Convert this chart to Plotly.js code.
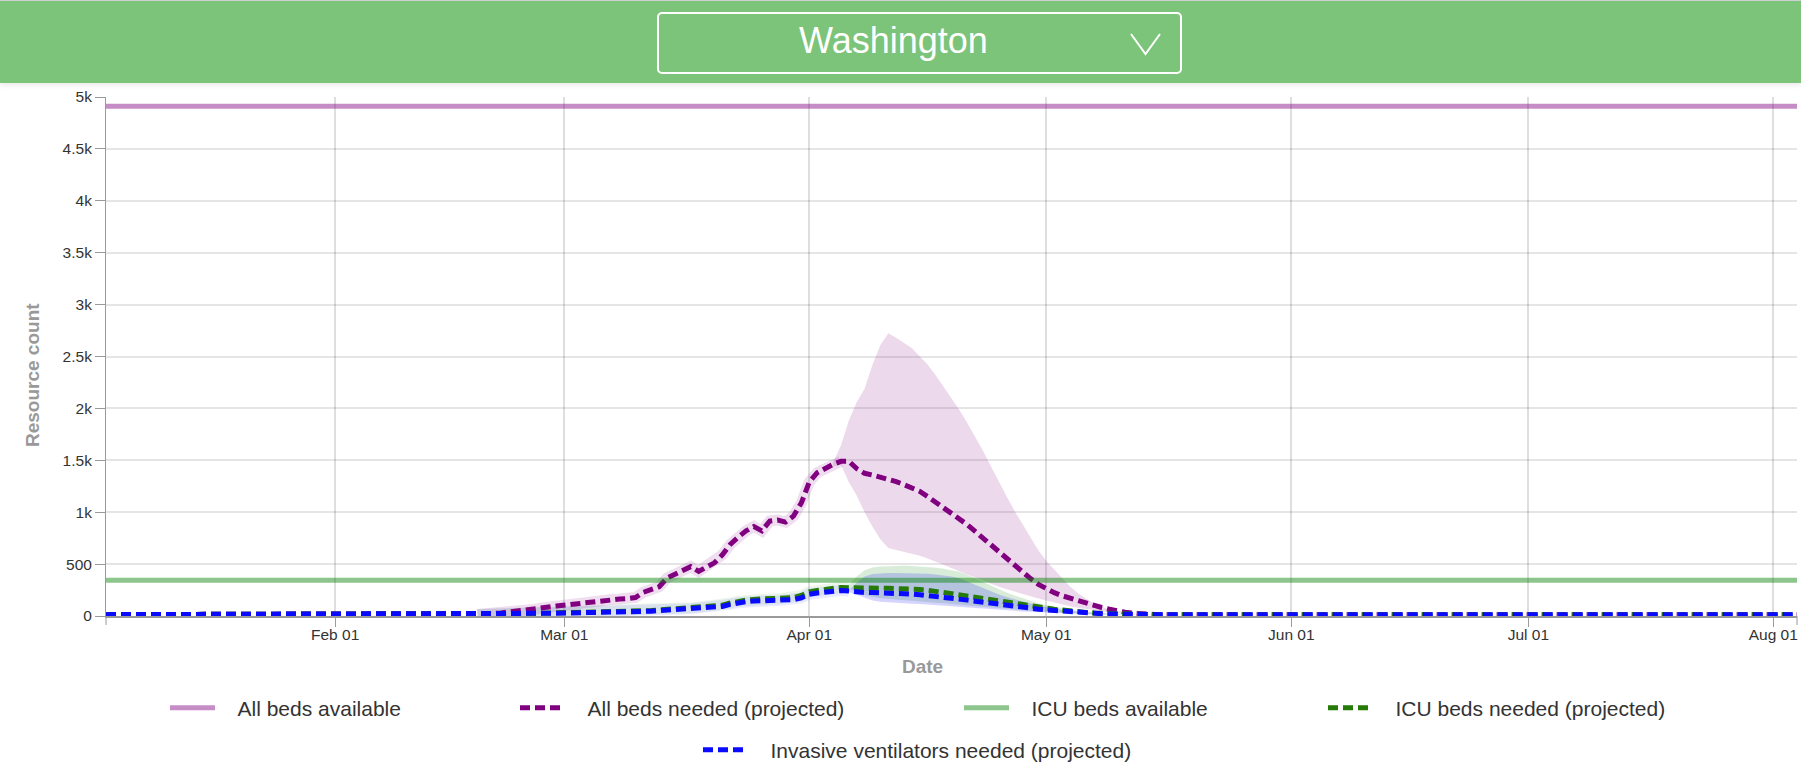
<!DOCTYPE html>
<html>
<head>
<meta charset="utf-8">
<script src="https://cdn.plot.ly/plotly-3.0.1.min.js"></script>
<style>
  html, body { margin:0; padding:0; background:#fff; }
  #wrap { position:relative; width:1801px; height:780px; overflow:hidden; font-family:"Liberation Sans", Arial, sans-serif; }
  #chart { position:absolute; left:0; top:0; width:1801px; height:780px; }
  #header { position:absolute; left:0; top:0; width:1801px; height:83px; background:rgb(123,196,122);
            border-top:1px solid #cfcfcf; box-sizing:border-box; box-shadow:0 3px 4px rgba(0,0,0,0.07); }
  #select { position:absolute; left:657px; top:11px; width:525px; height:62px; border:2px solid #fff;
            border-radius:5px; box-sizing:border-box; }
  #select span { position:absolute; left:0; top:9px; width:469px; text-align:center; color:#fff;
            font-size:36px; line-height:36px; font-family:"Liberation Sans", Arial, sans-serif; }
  #select svg { position:absolute; left:470px; top:18px; }
</style>
</head>
<body>
<div id="wrap">
  <div id="chart"></div>
  <div id="header">
    <div id="select">
      <span>Washington</span>
      <svg width="34" height="26" viewBox="0 0 34 26"><polyline points="2,2 16.5,22 31,2" fill="none" stroke="#fff" stroke-width="2"/></svg>
    </div>
  </div>
</div>
<script>
// ---- data ----
const availDates = ['2020-01-03', '2020-08-04'];
const allBedsAvailable = [4910, 4910];
const icuBedsAvailable = [344, 344];

const dates = ['2020-01-03',
 '2020-02-19','2020-02-20','2020-02-21','2020-02-22','2020-02-23','2020-02-24','2020-02-25','2020-02-26','2020-02-27','2020-02-28','2020-02-29',
 '2020-03-01','2020-03-02','2020-03-03','2020-03-04','2020-03-05','2020-03-06','2020-03-07','2020-03-08','2020-03-09','2020-03-10',
 '2020-03-11','2020-03-12','2020-03-13','2020-03-14','2020-03-15','2020-03-16','2020-03-17','2020-03-18','2020-03-19','2020-03-20',
 '2020-03-21','2020-03-22','2020-03-23','2020-03-24','2020-03-25','2020-03-26','2020-03-27','2020-03-28','2020-03-29','2020-03-30','2020-03-31',
 '2020-04-01','2020-04-02','2020-04-03','2020-04-04','2020-04-05','2020-04-06','2020-04-07','2020-04-08','2020-04-09','2020-04-10',
 '2020-04-11','2020-04-12','2020-04-13','2020-04-14','2020-04-15','2020-04-16','2020-04-17','2020-04-18','2020-04-19','2020-04-20',
 '2020-04-21','2020-04-22','2020-04-23','2020-04-24','2020-04-25','2020-04-26','2020-04-27','2020-04-28','2020-04-29','2020-04-30',
 '2020-05-01','2020-05-02','2020-05-03','2020-05-04','2020-05-05','2020-05-06','2020-05-07','2020-05-08','2020-05-09','2020-05-10',
 '2020-05-11','2020-05-12','2020-05-13','2020-05-14','2020-05-15','2020-05-16',
 '2020-08-04'];

const allBedsNeeded = [13,
 15,18,24,30,38,44,50,62,74,86,96,
 104,114,126,138,148,155,160,163,168,178,
 228,258,282,365,400,440,475,430,478,512,
 590,690,760,820,862,820,915,925,905,962,1090,
 1290,1380,1425,1460,1490,1492,1420,1375,1358,1340,
 1322,1295,1265,1235,1200,1150,1098,1050,992,940,
 880,815,750,680,610,545,475,415,360,305,
 260,225,195,170,145,122,102,82,65,48,
 36,27,20,16,13,13,
 13];

const icuBedsNeeded = [13,
 14,16,17,19,20,22,24,25,27,28,30,
 31,32,34,35,36,37,38,39,40,41,
 47,52,58,65,70,75,80,85,90,97,
 104,125,143,153,160,162,164,165,168,178,198,
 232,246,256,266,275,272,268,267,267,267,
 267,266,264,261,255,248,238,228,215,202,
 190,180,169,158,147,135,121,108,97,86,
 76,66,56,48,41,35,30,26,22,19,
 17,15,14,13,13,13,
 13];

const ventilatorsNeeded = [13,
 14,15,16,17,19,20,22,23,24,26,27,
 28,28,30,31,32,33,34,35,35,36,
 42,46,52,58,63,67,71,76,80,86,
 92,112,128,138,144,146,148,148,150,158,175,
 210,222,232,240,246,240,230,227,226,225,
 224,221,217,211,205,198,190,181,172,163,
 153,143,132,121,111,101,92,83,75,66,
 59,52,45,39,34,29,25,22,19,17,
 15,14,13,13,13,13,
 13];

const bandDates = [
 '2020-04-04','2020-04-05','2020-04-06','2020-04-07','2020-04-08','2020-04-09','2020-04-10',
 '2020-04-11','2020-04-12','2020-04-13','2020-04-14','2020-04-15','2020-04-16','2020-04-17','2020-04-18','2020-04-19','2020-04-20',
 '2020-04-21','2020-04-22','2020-04-23','2020-04-24','2020-04-25','2020-04-26','2020-04-27','2020-04-28','2020-04-29','2020-04-30',
 '2020-05-01','2020-05-02','2020-05-03','2020-05-04','2020-05-05','2020-05-06','2020-05-07','2020-05-08','2020-05-09','2020-05-10',
 '2020-05-11','2020-05-12','2020-05-13','2020-05-14','2020-05-15','2020-05-16'];

const allBedsUpper = [1480,1640,1880,2060,2190,2420,2610,
 2725,2680,2630,2580,2500,2420,2320,2210,2100,1985,
 1860,1730,1590,1440,1290,1150,1010,880,750,630,
 530,445,360,285,220,168,125,90,64,45,
 32,24,19,16,14,13];
const allBedsLower = [1440,1460,1290,1160,1000,860,740,
 655,635,618,598,580,553,524,495,463,432,
 400,370,340,310,282,258,234,210,188,168,
 150,130,112,95,80,67,55,45,37,30,
 25,20,17,15,13,12];

const icuUpper = [266,276,300,380,440,468,478,
 482,483,483,481,478,472,465,455,442,427,
 397,363,325,288,255,225,197,170,145,123,
 103,87,73,60,50,41,34,28,24,20,
 18,16,15,14,13,13];
const icuLower = [266,275,262,240,205,182,170,
 162,156,151,146,142,135,128,122,115,108,
 100,93,86,79,73,67,61,55,49,44,
 39,35,31,27,24,21,19,17,16,15,
 14,13,13,13,13,13];

const ventUpper = [240,246,250,320,380,405,413,
 415,415,414,412,410,406,400,392,380,363,
 332,299,266,236,207,182,160,139,120,102,
 86,72,60,50,41,34,28,24,20,18,
 16,15,14,13,13,13];
const ventLower = [240,246,232,205,172,150,138,
 132,127,123,119,116,110,104,97,91,85,
 79,73,68,63,58,53,48,44,40,36,
 30,27,24,21,19,17,15,14,13,13,
 12,12,12,12,12,12];

const legendLabels = ['All beds available', 'All beds needed (projected)', 'ICU beds available',
                      'ICU beds needed (projected)', 'Invasive ventilators needed (projected)'];

// ---- styling ----
const FONT = '"Liberation Sans", Arial, Helvetica, sans-serif';
const PURPLE = 'rgb(128,0,128)';
const GREEN = 'rgb(38,122,8)';
const BLUE = 'rgb(10,10,255)';
const DASH = '10px,5px';
const PAD = '\u00a0\u00a0\u00a0';   // gap between legend swatch and label

function band(lower, upper, color) {
  return [
    {x: bandDates, y: lower, type: 'scatter', mode: 'lines', line: {width: 0}, hoverinfo: 'skip', showlegend: false},
    {x: bandDates, y: upper, type: 'scatter', mode: 'lines', line: {width: 0}, fill: 'tonexty', fillcolor: color, hoverinfo: 'skip', showlegend: false}
  ];
}
function halo(end, values, color) {
  return {x: dates.slice(1, end), y: values.slice(1, end), type: 'scatter', mode: 'lines',
          line: {width: 11, color: color}, hoverinfo: 'skip', showlegend: false};
}

const traces = [].concat(
  band(allBedsLower, allBedsUpper, 'rgba(128,0,128,0.15)'),
  band(icuLower, icuUpper, 'rgba(0,128,0,0.15)'),
  band(ventLower, ventUpper, 'rgba(0,0,255,0.17)'),
  [
    halo(48, allBedsNeeded, 'rgba(128,0,128,0.13)'),
    halo(49, icuBedsNeeded, 'rgba(0,128,0,0.08)'),
    halo(49, ventilatorsNeeded, 'rgba(0,0,255,0.08)'),
    {x: dates, y: allBedsNeeded, name: PAD + legendLabels[1], type: 'scatter', mode: 'lines',
     line: {color: PURPLE, width: 5, dash: DASH}, legend: 'legend2'},
    {x: dates, y: icuBedsNeeded, name: PAD + legendLabels[3], type: 'scatter', mode: 'lines',
     line: {color: GREEN, width: 5, dash: DASH}, legend: 'legend4'},
    {x: dates, y: ventilatorsNeeded, name: PAD + legendLabels[4], type: 'scatter', mode: 'lines',
     line: {color: BLUE, width: 5, dash: DASH}, legend: 'legend5'},
    {x: availDates, y: allBedsAvailable, name: PAD + legendLabels[0], type: 'scatter', mode: 'lines',
     line: {color: 'rgba(128,0,128,0.45)', width: 5}, legend: 'legend'},
    {x: availDates, y: icuBedsAvailable, name: PAD + legendLabels[2], type: 'scatter', mode: 'lines',
     line: {color: 'rgba(0,128,0,0.45)', width: 5}, legend: 'legend3'}
  ]
);

const PL = 106, PR = 1797, PT = 97, PB = 616;
const PW = PR - PL, PH = PB - PT;
const px2x = p => (p - PL) / PW;
const px2y = p => (PB - p) / PH;

function leg(xpx, ypx) {
  return {orientation: 'h', x: px2x(xpx), y: px2y(ypx), xanchor: 'left', yanchor: 'middle',
          bgcolor: 'rgba(0,0,0,0)', borderwidth: 0, itemwidth: 45,
          font: {family: FONT, size: 21, color: '#333'}};
}

const layout = {
  width: 1801, height: 780,
  margin: {l: PL, r: 1801 - PR, t: PT, b: 780 - PB},
  paper_bgcolor: '#fff', plot_bgcolor: '#fff',
  font: {family: FONT, color: '#333'},
  showlegend: true,
  xaxis: {
    type: 'date', range: ['2020-01-03', '2020-08-04'],
    tick0: '2020-01-01', dtick: 'M1', tickformat: '%b %d',
    showgrid: true, gridcolor: 'rgba(0,0,0,0.13)', gridwidth: 2,
    showline: true, linecolor: '#9a9a9a', linewidth: 2,
    ticks: 'outside', ticklen: 9, tickcolor: '#9a9a9a', tickwidth: 1,
    ticklabelstandoff: -6,
    tickfont: {family: FONT, size: 15.5, color: '#333'},
    zeroline: false, fixedrange: true
  },
  yaxis: {
    range: [0, 5000], dtick: 500, tick0: 0, tickformat: '~s',
    showgrid: true, gridcolor: 'rgba(0,0,0,0.1)', gridwidth: 2,
    showline: true, linecolor: '#9a9a9a', linewidth: 1,
    ticks: 'outside', ticklen: 10, tickcolor: '#9a9a9a', tickwidth: 1,
    tickfont: {family: FONT, size: 15.5, color: '#333'},
    zeroline: false, fixedrange: true
  },
  legend: leg(165, 708),
  legend2: leg(515, 708),
  legend3: leg(959, 708),
  legend4: leg(1323, 708),
  legend5: leg(698, 750),
  shapes: [
    {type: 'line', xref: 'paper', yref: 'paper', x0: 0, x1: 0, y0: 0, y1: -9 / PH,
     line: {color: '#9a9a9a', width: 1}},
    {type: 'line', xref: 'paper', yref: 'paper', x0: 1, x1: 1, y0: 0, y1: -9 / PH,
     line: {color: '#9a9a9a', width: 1}}
  ],
  annotations: [
    {text: 'Resource count', xref: 'paper', yref: 'paper', x: px2x(32), y: px2y(375),
     xanchor: 'center', yanchor: 'middle', textangle: -90, showarrow: false,
     font: {family: FONT, size: 19, color: '#999', weight: 700}},
    {text: 'Date', xref: 'paper', yref: 'paper', x: px2x(922), y: px2y(666),
     xanchor: 'center', yanchor: 'middle', showarrow: false,
     font: {family: FONT, size: 19, color: '#999', weight: 700}}
  ]
};

Plotly.newPlot('chart', traces, layout, {displayModeBar: false, staticPlot: true});
</script>
</body>
</html>
